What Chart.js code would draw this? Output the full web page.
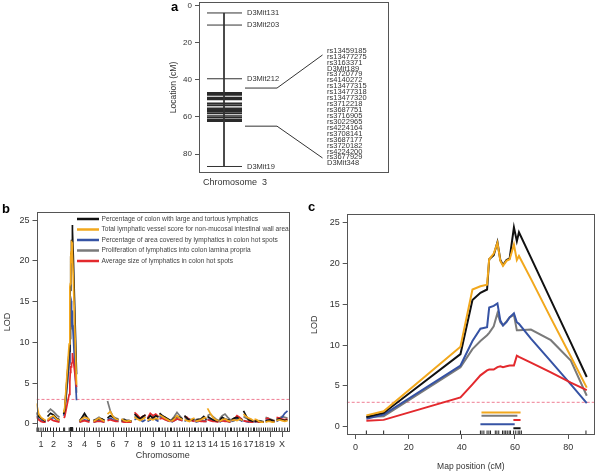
<!DOCTYPE html>
<html>
<head>
<meta charset="utf-8">
<script src="https://cdn.jsdelivr.net/npm/chart.js@4.4.1/dist/chart.umd.min.js"></script>
<style>
  html, body { margin: 0; padding: 0; background: #fff; }
  #wrap { position: relative; width: 600px; height: 472px; }
  canvas { position: absolute; left: 0; top: 0; }
</style>
</head>
<body>
<div id="wrap">
  <canvas id="chartA" width="600" height="472"></canvas>
  <canvas id="chartB" width="600" height="472"></canvas>
  <canvas id="chartC" width="600" height="472"></canvas>
</div>
<script>
// ---------- data ----------
const traitNames = [
  'Percentage of colon with large and tortous lymphatics',
  'Total lymphatic vessel score for non-mucosal intestinal wall area',
  'Percentage of area covered by lymphatics in colon hot spots',
  'Proliferation of lymphatics into colon lamina propria',
  'Average size of lymphatics in colon hot spots'
];
const traitColors = ['#111111', '#f2a81d', '#3653a4', '#7a7a7a', '#e3292d'];

// chromosome 3 markers (cM)
const msNames = ['D3Mit131', 'D3Mit203', 'D3Mit212', 'D3Mit19'];
const msPos = [4.1, 10.6, 39.5, 86.7];
const snpNames = ['rs13459185', 'rs13477275', 'rs3163371', 'D3Mit189', 'rs3720779', 'rs4140272',
  'rs13477315', 'rs13477318', 'rs13477320', 'rs3712218', 'rs3687751', 'rs3716905', 'rs3022965',
  'rs4224164', 'rs3708141', 'rs3687177', 'rs3720182', 'rs4224200', 'rs3677929', 'D3Mit348'];
const snpPos = [47.0, 47.6, 48.3, 49.5, 50.2, 50.8, 52.6, 53.2, 53.9, 55.3,
  55.9, 56.5, 57.1, 57.8, 58.3, 59.5, 60.3, 61.2, 61.8, 62.4];
const chr3Length = 90;

// panel c: LOD along chromosome 3
const mapPos   = [4.1, 10.6, 39.5, 44, 47, 49.5, 50.3, 52, 53.4, 54.5, 55.5, 56.8, 58, 59.6, 60.7, 61.5, 66, 73.5, 81, 87];
const lodBlack = [1.2, 1.7, 8.9, 15.5, 16.4, 16.8, 20.5, 21.0, 22.6, 20.4, 19.8, 20.4, 20.6, 24.4, 22.7, 23.8, 20.7, 15.5, 10.3, 6.1];
const lodOrange= [1.4, 1.9, 9.8, 16.8, 17.2, 17.4, 20.5, 21.2, 22.5, 20.3, 19.7, 20.3, 20.5, 22.3, 20.4, 20.9, 18.1, 13.3, 8.6, 4.8];
const lodBlue  = [1.0, 1.5, 7.5, 10.5, 12.0, 12.2, 14.6, 14.8, 15.1, 13.0, 12.4, 12.8, 13.4, 13.9, 12.8, 12.6, 10.8, 8.0, 5.2, 2.9];
const lodGray  = [1.2, 1.3, 7.3, 9.5, 10.5, 11.2, 11.5, 12.3, 13.9, 12.8, 12.4, 12.9, 13.4, 13.7, 11.8, 11.8, 11.9, 10.6, 8.1, 3.8];
const lodRed   = [0.75, 0.85, 3.6, 5.2, 6.3, 6.9, 7.0, 7.0, 7.3, 7.4, 7.3, 7.4, 7.5, 7.5, 8.7, 8.55, 7.85, 6.65, 5.4, 4.5];
const chr3Lod = [lodBlack, lodOrange, lodBlue, lodGray, lodRed];

// QTL intervals (cM), same trait order
const ciStart = [59.4, 47.4, 47.0, 47.4, 59.4];
const ciEnd   = [62.1, 62.1, 59.9, 60.9, 62.1];
const threshold = 3.0;

// panel b: genome scan
const chromosomes = ['1','2','3','4','5','6','7','8','9','10','11','12','13','14','15','16','17','18','19','X'];
const chrStart = [0, 11, 26.5, 43, 57, 71, 85, 98, 111, 123, 135, 148, 159, 171, 183, 195, 207, 218, 229, 240];
const chrEnd   = [9, 23, 40.5, 53, 68, 82, 95, 109, 122, 134, 146, 158, 170, 182, 194, 206, 217, 227, 238, 251];
const genomeBlack = [[1.4,0.9,0.7,0.5,0.3],[0.9,1.3,1.1,0.7,0.5],null,[0.3,0.8,1.3,0.8,0.4],[0.4,0.5,0.6,0.6,0.4],
  [0.7,1.0,0.8,0.6,0.5],[0.4,0.5,0.4,0.4,0.3],[1.2,0.9,0.6,0.9,1.1],[0.6,1.0,0.7,1.0,0.8],[1.3,1.0,0.8,0.6,0.4],
  [0.4,0.7,0.9,0.8,0.6],[1.0,0.7,0.4,0.5,0.6],[0.4,0.5,0.6,0.9,0.5],[0.9,0.7,0.5,0.4,0.4],[0.4,0.8,0.6,0.5,0.4],
  [0.5,0.7,0.8,0.6,0.5],[1.6,1.0,0.5,0.4,0.3],[0.3,0.4,0.3,0.3,0.2],[0.3,0.4,0.5,0.4,0.3],[0.5,0.6,0.5,0.4,0.5]];
const genomeOrange = [[2.5,1.2,0.8,0.6,0.4],[0.5,0.8,1.0,0.6,0.4],null,[0.3,0.6,0.8,0.7,0.5],[0.3,0.5,0.7,0.5,0.3],
  [1.2,1.5,0.9,0.6,0.5],[0.6,0.4,0.3,0.4,0.3],[0.8,0.6,0.4,0.6,0.8],[0.4,0.6,0.5,0.7,0.6],[1.1,0.9,0.7,0.5,0.3],
  [0.3,0.6,1.0,0.7,0.5],[0.5,0.4,0.3,0.6,0.7],[0.3,0.4,0.5,0.7,0.8],[1.9,1.3,0.8,0.5,0.4],[0.3,0.5,0.6,0.4,0.3],
  [0.4,0.5,0.4,0.6,0.4],[1.2,0.9,0.7,0.6,0.4],[0.6,0.5,0.3,0.2,0.2],[0.2,0.3,0.3,0.2,0.2],[0.4,0.5,0.4,0.3,0.4]];
const genomeBlue = [[1.0,0.6,0.4,0.3,0.2],[0.4,0.6,0.8,0.5,0.3],null,[0.2,0.4,0.5,0.4,0.3],[0.2,0.3,0.4,0.3,0.2],
  [0.5,0.7,0.5,0.4,0.3],[0.3,0.3,0.2,0.3,0.2],[0.5,0.7,0.5,0.3,0.5],[0.3,0.5,0.8,0.5,0.3],[0.9,0.8,0.6,0.4,0.3],
  [0.2,0.4,0.6,0.5,0.4],[0.3,0.5,0.6,0.4,0.3],[0.2,0.3,0.4,0.3,0.3],[0.6,0.5,0.4,0.3,0.3],[0.2,0.4,0.5,0.3,0.2],
  [0.3,0.5,0.7,0.5,0.3],[0.4,0.3,0.2,0.3,0.2],[0.2,0.3,0.2,0.2,0.2],[0.4,0.6,0.5,0.3,0.2],[0.3,0.5,0.8,1.3,1.6]];
const genomeGray = [[1.2,0.9,0.7,0.5,0.4],[1.4,1.8,1.5,1.1,0.8],null,[0.4,0.7,1.0,0.7,0.4],[0.4,0.6,0.8,0.6,0.4],
  [2.8,1.6,0.9,0.7,0.6],[0.5,0.6,0.4,0.4,0.3],[0.9,0.7,0.5,0.7,0.9],[0.8,0.5,0.9,0.6,0.5],[0.8,1.0,0.8,0.6,0.4],
  [0.5,0.9,1.4,1.0,0.6],[0.8,0.6,0.4,0.5,0.4],[0.5,0.6,0.5,0.4,0.4],[1.0,1.2,0.9,0.6,0.4],[0.6,1.0,1.2,0.8,0.5],
  [0.3,0.4,0.6,0.5,0.4],[0.9,0.7,0.6,0.4,0.3],[0.3,0.3,0.4,0.3,0.3],[0.8,0.7,0.6,0.5,0.4],[0.6,0.7,0.9,0.8,0.7]];
const genomeRed = [[0.8,0.5,0.3,0.2,0.2],[0.3,0.6,0.4,0.3,0.2],null,[0.2,0.3,0.4,0.3,0.2],[0.2,0.3,0.3,0.3,0.2],
  [0.4,0.5,0.4,0.3,0.3],[0.3,0.2,0.2,0.2,0.2],[1.4,1.1,0.7,0.9,1.1],[0.7,1.3,1.0,1.2,0.9],[0.6,0.7,0.5,0.4,0.3],
  [0.3,0.4,0.6,0.5,0.4],[0.9,0.8,0.5,0.4,0.3],[0.3,0.4,0.3,0.3,0.3],[0.5,0.4,0.3,0.3,0.2],[0.3,0.4,0.3,0.3,0.2],
  [0.4,0.6,1.0,0.8,0.5],[0.4,0.3,0.3,0.2,0.2],[0.3,0.3,0.2,0.2,0.2],[0.6,0.7,0.5,0.4,0.3],[0.8,0.7,0.6,0.5,0.6]];
const genomeLod = [genomeBlack, genomeOrange, genomeBlue, genomeGray, genomeRed];

const lodTicks = [0, 5, 10, 15, 20, 25];
const mapTicks = [0, 20, 40, 60, 80];
const locTicks = [0, 20, 40, 60, 80];

// ---------- layout / style ----------
Chart.defaults.font.family = '"Liberation Sans", Arial, sans-serif';
Chart.defaults.color = '#333';
const drawOrder = [2, 1, 4, 5, 3];   // orange on top
const ciRow = [-0.16, 1.76, 0.33, 1.35, 0.82];
const rugLevel = -0.72;
const pink = '#ef7d93';

function fix(prop, size) {
  return s => {
    s[prop] = size;
    s.paddingTop = s.paddingBottom = s.paddingLeft = s.paddingRight = 0;
  };
}
function tickList(list) {
  return s => { s.ticks = list.map(v => ({value: v})); };
}

const frame = {
  id: 'frame',
  afterDraw(chart, args, opts) {
    const {ctx, chartArea: a} = chart;
    ctx.save();
    ctx.strokeStyle = '#555';
    ctx.lineWidth = 1;
    ctx.strokeRect(Math.round(a.left) + 0.5, Math.round(a.top) + 0.5,
      Math.round(a.width) - 1, Math.round(a.height) - 1);
    ctx.fillStyle = '#000';
    ctx.font = 'bold 13px "Liberation Sans", Arial';
    ctx.textBaseline = 'alphabetic';
    ctx.fillText(opts.label, opts.x, opts.y);
    ctx.restore();
  }
};

const traitLegend = {
  id: 'traitLegend',
  afterDatasetsDraw(chart, args, opts) {
    if (!opts.show) return;
    const {ctx, chartArea: a} = chart;
    ctx.save();
    ctx.beginPath();
    ctx.rect(a.left, a.top, a.width, a.height);
    ctx.clip();
    ctx.font = '6.6px "Liberation Sans", Arial';
    ctx.textBaseline = 'middle';
    traitNames.forEach((name, i) => {
      const x = a.left + 40.5, y = a.top + 7 + i * 10.5;
      ctx.strokeStyle = traitColors[i];
      ctx.lineWidth = 2.5;
      ctx.beginPath(); ctx.moveTo(x, y); ctx.lineTo(x + 22, y); ctx.stroke();
      ctx.fillStyle = '#444';
      ctx.fillText(name, x + 24.5, y);
    });
    ctx.restore();
  }
};

// ---------- panel a ----------
const chromX = 25, barFrom = 8, barTo = 43, labelX = 48, snpLabelX = 128;
const snpLabelTop = 24.4, snpLabelBottom = 85.0;

const mapLabels = {
  id: 'mapLabels',
  afterDatasetsDraw(chart) {
    const {ctx, scales: {x, y}} = chart;
    ctx.save();
    ctx.fillStyle = '#333';
    ctx.font = '7.5px "Liberation Sans", Arial';
    ctx.textBaseline = 'middle';
    msNames.forEach((n, i) => ctx.fillText(n, x.getPixelForValue(labelX), y.getPixelForValue(msPos[i])));
    const step = (snpLabelBottom - snpLabelTop) / (snpNames.length - 1);
    snpNames.forEach((n, i) => ctx.fillText(n, x.getPixelForValue(snpLabelX), y.getPixelForValue(snpLabelTop + i * step)));
    ctx.restore();
  }
};

function barPoints(list) {
  const pts = [];
  list.forEach(c => { pts.push({x: barFrom, y: c}, {x: barTo, y: c}, {x: barTo, y: null}); });
  return pts;
}

new Chart(document.getElementById('chartA'), {
  type: 'line',
  data: {
    datasets: [
      {data: [{x: chromX, y: msPos[0]}, {x: chromX, y: msPos[msPos.length - 1]}], borderColor: '#333', borderWidth: 1},
      {data: barPoints(msPos), borderColor: '#333', borderWidth: 1},
      {data: barPoints(snpPos), borderColor: '#2a2a2a', borderWidth: 1.2},
      {data: [{x: 46, y: 44.5}, {x: 78, y: 44.5}, {x: 123.5, y: 26.7}], borderColor: '#333', borderWidth: 1},
      {data: [{x: 46, y: 65}, {x: 78, y: 65}, {x: 123.5, y: 82.1}], borderColor: '#333', borderWidth: 1}
    ]
  },
  options: {
    responsive: false, animation: false, devicePixelRatio: 1,
    layout: {padding: {left: 168.4, right: 211, top: 2, bottom: 279}},
    elements: {point: {radius: 0}, line: {tension: 0}},
    plugins: {legend: {display: false}, tooltip: {enabled: false}, frame: {label: 'a', x: 171, y: 11}},
    scales: {
      x: {
        type: 'linear', min: 0, max: 190,
        afterBuildTicks: tickList([36]),
        ticks: {callback: () => 'Chromosome  3', font: {size: 9}, padding: 4, maxRotation: 0, autoSkip: false},
        grid: {display: false, drawTicks: false}, border: {display: false},
        afterFit: fix('height', 20)
      },
      y: {
        type: 'linear', reverse: true, min: -1.8, max: 90.2,
        afterBuildTicks: tickList(locTicks),
        ticks: {font: {size: 8}, padding: 3},
        grid: {drawOnChartArea: false, tickLength: 4, tickColor: '#555'}, border: {display: false},
        title: {display: true, text: 'Location (cM)', font: {size: 8.5}, padding: 0},
        afterFit: fix('width', 30.6)
      }
    }
  },
  plugins: [frame, mapLabels]
});

// ---------- panel b ----------
function genomeSeries(values, chr3) {
  const pts = [];
  chromosomes.forEach((c, i) => {
    const w = chrEnd[i] - chrStart[i];
    if (i === 2) {
      mapPos.forEach((p, j) => pts.push({x: chrStart[i] + p / chr3Length * w, y: chr3[j]}));
    } else {
      values[i].forEach((v, j) => pts.push({x: chrStart[i] + j / (values[i].length - 1) * w, y: v}));
    }
    pts.push({x: chrEnd[i], y: null});
  });
  return pts;
}
const genomeRug = [];
chromosomes.forEach((c, i) => {
  const w = chrEnd[i] - chrStart[i];
  if (i === 2) {
    msPos.concat(snpPos).forEach(p => genomeRug.push({x: chrStart[i] + p / chr3Length * w, y: rugLevel}));
  } else {
    genomeBlack[i].forEach((v, j) => genomeRug.push({x: chrStart[i] + j / (genomeBlack[i].length - 1) * w, y: rugLevel}));
  }
});
const chrMid = chrStart.map((s, i) => (s + chrEnd[i]) / 2);
const bMax = 252.5;

const bSets = traitNames.map((n, k) => ({
  label: n, data: genomeSeries(genomeLod[k], chr3Lod[k]),
  borderColor: traitColors[k], borderWidth: 1.7, order: drawOrder[k]
}));
bSets.push({data: [{x: 0, y: threshold}, {x: bMax, y: threshold}], borderColor: pink, borderWidth: 1, borderDash: [3, 2], order: 6});
bSets.push({data: genomeRug, showLine: false, pointStyle: 'line', pointRotation: 90, pointRadius: 2.2,
  pointBorderWidth: 1, pointBorderColor: '#222', order: 0});

new Chart(document.getElementById('chartB'), {
  type: 'line',
  data: {datasets: bSets},
  options: {
    responsive: false, animation: false, devicePixelRatio: 1,
    layout: {padding: {left: 2.6, right: 311, top: 212, bottom: 10.6}},
    elements: {point: {radius: 0}, line: {tension: 0}},
    plugins: {legend: {display: false}, tooltip: {enabled: false},
      frame: {label: 'b', x: 2, y: 213}, traitLegend: {show: true}},
    scales: {
      x: {
        type: 'linear', min: 0, max: bMax,
        afterBuildTicks: tickList(chrMid),
        ticks: {callback: (v, i) => chromosomes[i], font: {size: 9}, padding: 2, maxRotation: 0, autoSkip: false},
        grid: {drawOnChartArea: false, tickLength: 5, tickColor: '#555'}, border: {display: false},
        title: {display: true, text: 'Chromosome', font: {size: 9}, padding: 0},
        afterFit: fix('height', 29.4)
      },
      y: {
        type: 'linear', min: -1, max: 26,
        afterBuildTicks: tickList(lodTicks),
        ticks: {font: {size: 9}, padding: 3},
        grid: {drawOnChartArea: false, tickLength: 4, tickColor: '#555'}, border: {display: false},
        title: {display: true, text: 'LOD', font: {size: 9}, padding: 0},
        afterFit: fix('width', 33.9)
      }
    }
  },
  plugins: [frame, traitLegend]
});

// ---------- panel c ----------
const cMin = -3.3, cMax = 90.1;
const cSets = traitNames.map((n, k) => ({
  label: n, data: mapPos.map((p, j) => ({x: p, y: chr3Lod[k][j]})),
  borderColor: traitColors[k], borderWidth: 2, order: drawOrder[k]
}));
traitNames.forEach((n, k) => cSets.push({
  data: [{x: ciStart[k], y: ciRow[k]}, {x: ciEnd[k], y: ciRow[k]}],
  borderColor: traitColors[k], borderWidth: 2, order: 0
}));
cSets.push({data: [{x: cMin, y: threshold}, {x: cMax, y: threshold}], borderColor: pink, borderWidth: 1, borderDash: [3, 2], order: 6});
cSets.push({data: msPos.concat(snpPos).map(p => ({x: p, y: rugLevel})), showLine: false, pointStyle: 'line',
  pointRotation: 90, pointRadius: 2.2, pointBorderWidth: 1, pointBorderColor: '#222', order: 0});

new Chart(document.getElementById('chartC'), {
  type: 'line',
  data: {datasets: cSets},
  options: {
    responsive: false, animation: false, devicePixelRatio: 1,
    layout: {padding: {left: 309.6, right: 2, top: 214.3, bottom: 0.5}},
    elements: {point: {radius: 0}, line: {tension: 0}},
    plugins: {legend: {display: false}, tooltip: {enabled: false}, frame: {label: 'c', x: 308, y: 211}},
    scales: {
      x: {
        type: 'linear', min: cMin, max: cMax,
        afterBuildTicks: tickList(mapTicks),
        ticks: {font: {size: 9}, padding: 3.5, maxRotation: 0, autoSkip: false},
        grid: {drawOnChartArea: false, tickLength: 4, tickColor: '#555'}, border: {display: false},
        title: {display: true, text: 'Map position (cM)', font: {size: 8.5}, padding: 0},
        afterFit: fix('height', 36.5)
      },
      y: {
        type: 'linear', min: -1, max: 26,
        afterBuildTicks: tickList(lodTicks),
        ticks: {font: {size: 9}, padding: 3},
        grid: {drawOnChartArea: false, tickLength: 4, tickColor: '#555'}, border: {display: false},
        title: {display: true, text: 'LOD', font: {size: 9}, padding: 0},
        afterFit: fix('width', 37.1)
      }
    }
  },
  plugins: [frame]
});
</script>
</body>
</html>
